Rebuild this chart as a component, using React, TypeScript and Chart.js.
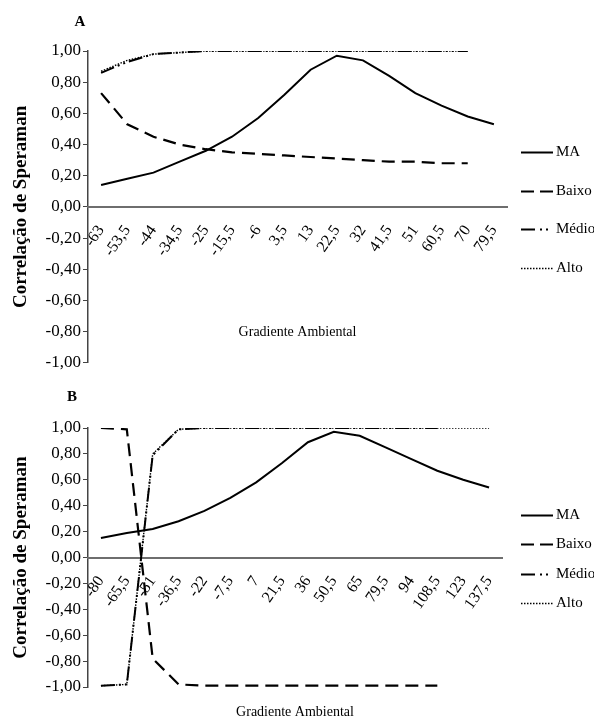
import React, { useEffect, useRef } from 'react';
import { Chart, registerables } from 'chart.js';

Chart.register(...registerables);

const FONT = "'Liberation Serif', 'Times New Roman', serif";

// Panel A
const catsA = ['-63', '-53,5', '-44', '-34,5', '-25', '-15,5', '-6', '3,5', '13', '22,5', '32', '41,5', '51', '60,5', '70', '79,5'];
const maA = [0.14, 0.18, 0.22, 0.29, 0.36, 0.45, 0.57, 0.72, 0.88, 0.97, 0.94, 0.84, 0.73, 0.65, 0.58, 0.53];
const baixoA = [0.73, 0.53, 0.45, 0.40, 0.37, 0.35, 0.34, 0.33, 0.32, 0.31, 0.30, 0.29, 0.29, 0.28, 0.28];
const medioA = [0.86, 0.93, 0.98, 0.99, 1.0, 1.0, 1.0, 1.0, 1.0, 1.0, 1.0, 1.0, 1.0, 1.0, 1.0];
const altoA = [0.87, 0.94, 0.98, 0.99, 1.0, 1.0, 1.0, 1.0, 1.0, 1.0, 1.0, 1.0, 1.0, 1.0, 1.0];

// Panel B
const catsB = ['-80', '-65,5', '-51', '-36,5', '-22', '-7,5', '7', '21,5', '36', '50,5', '65', '79,5', '94', '108,5', '123', '137,5'];
const maB = [0.15, 0.19, 0.22, 0.28, 0.36, 0.46, 0.58, 0.73, 0.89, 0.97, 0.94, 0.85, 0.76, 0.67, 0.60, 0.54];
const baixoB = [1.0, 0.99, -0.78, -0.98, -0.99, -0.99, -0.99, -0.99, -0.99, -0.99, -0.99, -0.99, -0.99, -0.99];
const medioB = [-0.99, -0.98, 0.79, 0.99, 1.0, 1.0, 1.0, 1.0, 1.0, 1.0, 1.0, 1.0, 1.0, 1.0];
const altoB = [-0.99, -0.98, 0.80, 0.99, 1.0, 1.0, 1.0, 1.0, 1.0, 1.0, 1.0, 1.0, 1.0, 1.0, 1.0, 1.0];

const seriesNames = ['MA', 'Baixo', 'Médio', 'Alto'];
const yTickValues = [-1, -0.8, -0.6, -0.4, -0.2, 0, 0.2, 0.4, 0.6, 0.8, 1];
const yTitle = 'Correlação de Speraman';
const xTitle = 'Gradiente Ambiental';

const fmt = (v: number) => (Math.round(v * 100) / 100).toFixed(2).replace('.', ',');

const decorPlugin = {
  id: 'decor',
  afterDraw(chart: any, _args: any, opts: any) {
    const { ctx, chartArea } = chart;
    ctx.save();
    ctx.fillStyle = '#000';
    ctx.textBaseline = 'middle';
    // panel letter
    ctx.font = `bold 15px ${FONT}`;
    ctx.textAlign = 'center';
    ctx.fillText(opts.panel, opts.panelX, opts.panelY);
    // x title
    ctx.font = `14px ${FONT}`;
    ctx.fillText(opts.xTitle, (chartArea.left + chartArea.right) / 2, opts.xTitleY);
    // legend
    const ds = chart.data.datasets;
    const n = ds.length;
    const cy = (chartArea.top + chartArea.bottom) / 2 + opts.legendShift;
    const x0 = chartArea.right + opts.legendOffset;
    ds.forEach((d: any, i: number) => {
      const y = Math.round(cy + (i - (n - 1) / 2) * opts.legendGap) + 0.5;
      ctx.beginPath();
      ctx.setLineDash(d.legendDash || d.borderDash || []);
      ctx.lineWidth = d.borderWidth;
      ctx.strokeStyle = d.borderColor;
      ctx.moveTo(x0, y);
      ctx.lineTo(x0 + 32, y);
      ctx.stroke();
      ctx.setLineDash([]);
      ctx.font = `15px ${FONT}`;
      ctx.textAlign = 'left';
      ctx.fillText(d.label, x0 + 35, y);
    });
    ctx.restore();
  },
};

function makeDatasets(ma: number[], baixo: number[], medio: number[], alto: number[]) {
  const base = { borderColor: '#000', pointRadius: 0, tension: 0, fill: false, backgroundColor: '#000' };
  return [
    { ...base, label: seriesNames[0], data: ma, borderWidth: 2 },
    { ...base, label: seriesNames[1], data: baixo, borderWidth: 2.2, borderDash: [13, 7], legendDash: [13, 6] },
    { ...base, label: seriesNames[2], data: medio, borderWidth: 2, borderDash: [14, 4, 2, 4, 2, 4], legendDash: [14, 5, 2, 4, 2, 40] },
    { ...base, label: seriesNames[3], data: alto, borderWidth: 1.4, borderDash: [1.5, 1.5] },
  ];
}

function makeConfig(cats: string[], datasets: any[], pad: any, decor: any): any {
  return {
    type: 'line',
    data: { labels: cats, datasets },
    options: {
      responsive: false,
      animation: false,
      devicePixelRatio: 1,
      layout: { padding: pad },
      plugins: { legend: { display: false }, tooltip: { enabled: false }, decor },
      scales: {
        y: {
          min: -1,
          max: 1,
          afterBuildTicks: (s: any) => {
            s.ticks = yTickValues.map((v) => ({ value: v }));
          },
          afterFit: (s: any) => {
            s.width = 88;
          },
          ticks: {
            callback: (v: any) => fmt(Number(v)),
            font: { family: FONT, size: 17 },
            color: '#000',
            padding: 2,
          },
          grid: { display: true, drawOnChartArea: false, drawTicks: true, tickLength: 5, color: '#444', lineWidth: 1 },
          border: { display: true, color: '#444', width: 1.5 },
          title: {
            display: true,
            text: yTitle,
            font: { family: FONT, size: 19, weight: 'bold' },
            color: '#000',
            padding: { top: 10, bottom: 0 },
          },
        },
        x: {
          type: 'category',
          position: { y: 0 },
          offset: true,
          grid: { display: true, color: 'rgba(0,0,0,0)', drawTicks: false, drawOnChartArea: false },
          border: { display: true, color: '#6e6e6e', width: 2 },
          ticks: {
            autoSkip: false,
            minRotation: 55,
            maxRotation: 55,
            padding: 15,
            font: { family: FONT, size: 16 },
            color: '#000',
          },
        },
      },
    },
    plugins: [decorPlugin],
  };
}

function ChartCanvas({ config, width, height, top }: any) {
  const ref = useRef<HTMLCanvasElement | null>(null);
  useEffect(() => {
    if (!ref.current) return;
    const chart = new Chart(ref.current, config);
    return () => chart.destroy();
  }, [config]);
  return (
    <canvas
      ref={ref}
      width={width}
      height={height}
      style={{ position: 'absolute', left: 0, top, width, height, display: 'block' }}
    />
  );
}

const configA = makeConfig(
  catsA,
  makeDatasets(maA, baixoA, medioA, altoA),
  { left: 0, top: 51, right: 87, bottom: 12 },
  { panel: 'A', panelX: 80, panelY: 22, xTitle, xTitleY: 332, legendShift: 3, legendGap: 38.7, legendOffset: 14 }
);

const configB = makeConfig(
  catsB,
  makeDatasets(maB, baixoB, medioB, altoB),
  { left: 0, top: 53, right: 92, bottom: 31 },
  { panel: 'B', panelX: 72, panelY: 22, xTitle, xTitleY: 337, legendShift: 1.5, legendGap: 29.5, legendOffset: 19 }
);

export default function App() {
  return (
    <div style={{ position: 'absolute', left: 0, top: 0, width: 594, height: 718, overflow: 'hidden', background: '#fff' }}>
      <ChartCanvas config={configA} width={594} height={375} top={0} />
      <ChartCanvas config={configB} width={594} height={343} top={375} />
    </div>
  );
}
